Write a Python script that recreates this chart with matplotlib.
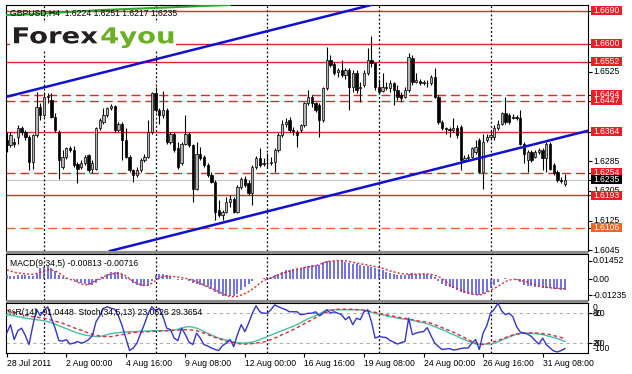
import matplotlib
matplotlib.use("Agg")
import matplotlib.pyplot as plt
import numpy as np
from matplotlib.patches import Rectangle, PathPatch
from matplotlib.textpath import TextPath
from matplotlib.font_manager import FontProperties
from matplotlib.transforms import Affine2D, blended_transform_factory

# GBPUSD H4 candles, 28 Jul 2011 08:00 ... 1 Sep 2011
opens = [1.6341, 1.6328, 1.6337, 1.6350, 1.6373, 1.6364, 1.6350, 1.6283, 1.6355, 1.6431,
         1.6409, 1.6456, 1.6449, 1.6404, 1.6364, 1.6270, 1.6296, 1.6319, 1.6316, 1.6277,
         1.6270, 1.6279, 1.6301, 1.6263, 1.6265, 1.6373, 1.6391, 1.6409, 1.6427, 1.6433,
         1.6368, 1.6384, 1.6341, 1.6296, 1.6261, 1.6247, 1.6261, 1.6288, 1.6296, 1.6364,
         1.6467, 1.6422, 1.6409, 1.6422, 1.6337, 1.6359, 1.6319, 1.6279, 1.6332, 1.6359,
         1.6328, 1.6211, 1.6305, 1.6296, 1.6274, 1.6247, 1.6229, 1.6153, 1.6140, 1.6149,
         1.6175, 1.6184, 1.6149, 1.6216, 1.6238, 1.6225, 1.6198, 1.6270, 1.6292, 1.6277,
         1.6281, 1.6279, 1.6283, 1.6314, 1.6355, 1.6384, 1.6395, 1.6368, 1.6364, 1.6368,
         1.6382, 1.6440, 1.6456, 1.6440, 1.6436, 1.6395, 1.6481, 1.6557, 1.6546, 1.6525,
         1.6530, 1.6516, 1.6530, 1.6485, 1.6521, 1.6481, 1.6490, 1.6521, 1.6557, 1.6548,
         1.6485, 1.6474, 1.6485, 1.6481, 1.6494, 1.6476, 1.6463, 1.6458, 1.6476, 1.6561,
         1.6498, 1.6501, 1.6496, 1.6494, 1.6494, 1.6512, 1.6458, 1.6391, 1.6373, 1.6370,
         1.6368, 1.6373, 1.6377, 1.6288, 1.6292, 1.6296, 1.6310, 1.6341, 1.6256, 1.6341,
         1.6350, 1.6350, 1.6373, 1.6386, 1.6413, 1.6409, 1.6404, 1.6404, 1.6400, 1.6332,
         1.6288, 1.6310, 1.6296, 1.6310, 1.6314, 1.6292, 1.6332, 1.6274, 1.6256, 1.6234, 1.6224]
highs = [1.6364, 1.6364, 1.6346, 1.6382, 1.6379, 1.6368, 1.6355, 1.6359, 1.6472, 1.6440,
         1.6472, 1.6467, 1.6467, 1.6413, 1.6368, 1.6314, 1.6323, 1.6325, 1.6325, 1.6283,
         1.6288, 1.6301, 1.6305, 1.6288, 1.6377, 1.6400, 1.6427, 1.6431, 1.6438, 1.6436,
         1.6391, 1.6391, 1.6373, 1.6301, 1.6265, 1.6270, 1.6292, 1.6305, 1.6395, 1.6472,
         1.6485, 1.6427, 1.6474, 1.6427, 1.6364, 1.6364, 1.6337, 1.6337, 1.6409, 1.6364,
         1.6332, 1.6337, 1.6323, 1.6301, 1.6279, 1.6256, 1.6234, 1.6180, 1.6153, 1.6189,
         1.6193, 1.6189, 1.6220, 1.6243, 1.6245, 1.6234, 1.6274, 1.6298, 1.6319, 1.6292,
         1.6307, 1.6296, 1.6319, 1.6361, 1.6395, 1.6400, 1.6404, 1.6377, 1.6368, 1.6386,
         1.6445, 1.6476, 1.6463, 1.6445, 1.6440, 1.6485, 1.6593, 1.6570, 1.6552, 1.6534,
         1.6557, 1.6534, 1.6534, 1.6530, 1.6530, 1.6498, 1.6530, 1.6588, 1.6621, 1.6552,
         1.6507, 1.6521, 1.6498, 1.6503, 1.6498, 1.6490, 1.6472, 1.6485, 1.6575, 1.6570,
         1.6521, 1.6507, 1.6503, 1.6503, 1.6516, 1.6534, 1.6463, 1.6395, 1.6377, 1.6377,
         1.6400, 1.6382, 1.6382, 1.6301, 1.6305, 1.6323, 1.6341, 1.6346, 1.6359, 1.6359,
         1.6364, 1.6382, 1.6395, 1.6418, 1.6458, 1.6413, 1.6411, 1.6409, 1.6422, 1.6337,
         1.6314, 1.6314, 1.6314, 1.6319, 1.6319, 1.6337, 1.6337, 1.6279, 1.6261, 1.6243, 1.6251]
lows = [1.6310, 1.6323, 1.6323, 1.6332, 1.6355, 1.6341, 1.6261, 1.6265, 1.6350, 1.6395,
        1.6404, 1.6442, 1.6400, 1.6364, 1.6238, 1.6265, 1.6290, 1.6310, 1.6270, 1.6225,
        1.6265, 1.6274, 1.6256, 1.6254, 1.6261, 1.6368, 1.6386, 1.6404, 1.6422, 1.6364,
        1.6364, 1.6288, 1.6292, 1.6256, 1.6229, 1.6243, 1.6256, 1.6283, 1.6292, 1.6359,
        1.6418, 1.6386, 1.6400, 1.6332, 1.6332, 1.6310, 1.6265, 1.6274, 1.6328, 1.6323,
        1.6175, 1.6207, 1.6288, 1.6270, 1.6243, 1.6225, 1.6126, 1.6135, 1.6126, 1.6144,
        1.6162, 1.6144, 1.6144, 1.6211, 1.6216, 1.6193, 1.6166, 1.6265, 1.6270, 1.6272,
        1.6270, 1.6274, 1.6256, 1.6310, 1.6350, 1.6377, 1.6364, 1.6355, 1.6323, 1.6364,
        1.6377, 1.6436, 1.6431, 1.6418, 1.6350, 1.6391, 1.6476, 1.6539, 1.6516, 1.6510,
        1.6512, 1.6507, 1.6422, 1.6472, 1.6467, 1.6445, 1.6485, 1.6516, 1.6539, 1.6476,
        1.6467, 1.6472, 1.6476, 1.6472, 1.6436, 1.6449, 1.6445, 1.6454, 1.6472, 1.6490,
        1.6494, 1.6490, 1.6490, 1.6485, 1.6490, 1.6454, 1.6386, 1.6368, 1.6359, 1.6350,
        1.6364, 1.6346, 1.6261, 1.6283, 1.6288, 1.6292, 1.6305, 1.6252, 1.6211, 1.6337,
        1.6341, 1.6341, 1.6368, 1.6382, 1.6386, 1.6386, 1.6397, 1.6395, 1.6328, 1.6279,
        1.6256, 1.6283, 1.6292, 1.6305, 1.6261, 1.6256, 1.6261, 1.6247, 1.6229, 1.6225, 1.6217]
closes = [1.6328, 1.6355, 1.6331, 1.6373, 1.6364, 1.6350, 1.6283, 1.6355, 1.6431, 1.6409,
          1.6456, 1.6460, 1.6404, 1.6368, 1.6288, 1.6296, 1.6319, 1.6314, 1.6274, 1.6265,
          1.6281, 1.6296, 1.6261, 1.6281, 1.6373, 1.6395, 1.6409, 1.6427, 1.6433, 1.6368,
          1.6384, 1.6341, 1.6296, 1.6261, 1.6247, 1.6261, 1.6288, 1.6296, 1.6364, 1.6467,
          1.6422, 1.6409, 1.6422, 1.6337, 1.6359, 1.6314, 1.6270, 1.6332, 1.6359, 1.6328,
          1.6211, 1.6305, 1.6292, 1.6274, 1.6247, 1.6229, 1.6149, 1.6140, 1.6149, 1.6175,
          1.6184, 1.6149, 1.6216, 1.6238, 1.6220, 1.6198, 1.6270, 1.6292, 1.6274, 1.6281,
          1.6279, 1.6283, 1.6314, 1.6355, 1.6384, 1.6391, 1.6368, 1.6367, 1.6355, 1.6382,
          1.6440, 1.6456, 1.6440, 1.6422, 1.6395, 1.6481, 1.6557, 1.6543, 1.6521, 1.6530,
          1.6516, 1.6530, 1.6485, 1.6521, 1.6476, 1.6485, 1.6521, 1.6557, 1.6548, 1.6485,
          1.6472, 1.6485, 1.6481, 1.6494, 1.6476, 1.6458, 1.6454, 1.6476, 1.6566, 1.6498,
          1.6503, 1.6496, 1.6498, 1.6496, 1.6512, 1.6458, 1.6391, 1.6373, 1.6370, 1.6368,
          1.6373, 1.6355, 1.6288, 1.6292, 1.6296, 1.6319, 1.6323, 1.6256, 1.6337, 1.6350,
          1.6355, 1.6373, 1.6386, 1.6413, 1.6391, 1.6391, 1.6402, 1.6400, 1.6332, 1.6305,
          1.6310, 1.6288, 1.6310, 1.6314, 1.6292, 1.6332, 1.6265, 1.6252, 1.6234, 1.6232, 1.6235]

# MACD(9,34,5) main (histogram) and signal
macd = [.0030, .0028, .0025, .0030, .0035, .0032, .0022, .0025, .0040, .0085,
        .0098, .0105, .0090, .0064, .0035, .0020, .0010, .0005, -.0005, -.0020,
        -.0030, -.0035, -.0040, -.0045, -.0030, -.0005, .0020, .0040, .0055, .0060,
        .0055, .0045, .0020, -.0005, -.0030, -.0045, -.0050, -.0050, -.0040, -.0010,
        .0030, .0045, .0045, .0035, .0020, .0005, -.0005, -.0005, .0000, -.0010,
        -.0030, -.0035, -.0040, -.0050, -.0060, -.0075, -.0100, -.0115, -.0125, -.0130,
        -.0130, -.0125, -.0110, -.0085, -.0060, -.0035, -.0010, .0000, .0005, .0010,
        .0015, .0020, .0030, .0045, .0060, .0070, .0075, .0078, .0078, .0082,
        .0095, .0105, .0108, .0108, .0112, .0130, .0142, .0145, .0145, .0143,
        .0138, .0132, .0125, .0120, .0115, .0110, .0105, .0102, .0098, .0088,
        .0080, .0070, .0060, .0050, .0040, .0035, .0032, .0035, .0045, .0046,
        .0042, .0040, .0040, .0038, .0030, .0015, -.0010, -.0035, -.0050, -.0060,
        -.0070, -.0080, -.0095, -.0105, -.0115, -.0120, -.0120, -.0120, -.0110, -.0095,
        -.0070, -.0045, -.0020, .0005, .0010, .0005, .0000, -.0005, -.0020, -.0040,
        -.0050, -.0055, -.0060, -.0062, -.0065, -.0066, -.0068, -.0072, -.0076, -.0079, -.0081]
macd_signal = [.0072, .0064, .0056, .0050, .0045, .0042, .0040, .0039, .0045, .0055,
               .0065, .0072, .0072, .0065, .0050, .0030, .0010, .0000, -.0010, -.0020,
               -.0035, -.0043, -.0040, -.0025, -.0008, .0008, .0020, .0032, .0040, .0046,
               .0048, .0040, .0025, .0005, -.0018, -.0030, -.0042, -.0049, -.0045, -.0030,
               -.0010, .0010, .0021, .0025, .0023, .0021, .0018, .0012, .0008, .0002,
               -.0008, -.0018, -.0030, -.0045, -.0060, -.0072, -.0082, -.0095, -.0110, -.0125,
               -.0132, -.0134, -.0130, -.0122, -.0110, -.0095, -.0075, -.0055, -.0030, -.0010,
               .0002, .0012, .0022, .0035, .0046, .0055, .0065, .0072, .0080, .0085,
               .0090, .0095, .0100, .0105, .0115, .0125, .0136, .0140, .0143, .0145,
               .0145, .0143, .0138, .0132, .0125, .0120, .0115, .0110, .0105, .0098,
               .0092, .0085, .0075, .0065, .0058, .0050, .0045, .0042, .0040, .0040,
               .0040, .0042, .0042, .0041, .0039, .0032, .0020, .0005, -.0015, -.0044,
               -.0058, -.0070, -.0082, -.0095, -.0105, -.0112, -.0118, -.0120, -.0115, -.0100,
               -.0085, -.0070, -.0052, -.0035, -.0018, -.0006, .0000, -.0002, -.0008, -.0015,
               -.0022, -.0030, -.0040, -.0050, -.0057, -.0062, -.0065, -.0068, -.0070, -.0071, -.0072]

# Williams %R(14) and Stochastic(34,5,13)
wpr = [-60, -43, -73, -55, -50, -65, -83, -45, -12, -25,
       -15, -7, -30, -50, -75, -76, -73, -82, -80, -77,
       -80, -78, -73, -65, -37, -25, -10, -7, -10, -12,
       -25, -45, -70, -95, -90, -80, -60, -42, -20, -7,
       -15, -10, -27, -50, -53, -70, -75, -50, -63, -78,
       -83, -60, -70, -83, -86, -90, -93, -95, -85, -80,
       -73, -87, -63, -43, -57, -40, -20, -5, -17, -20,
       -20, -13, -3, -7, -10, -13, -17, -17, -17, -23,
       -22, -20, -20, -17, -25, -20, -13, -20, -17, -20,
       -23, -33, -27, -43, -30, -33, -17, -13, -37, -70,
       -67, -68, -69, -75, -78, -82, -79, -77, -30, -63,
       -60, -58, -57, -49, -65, -80, -87, -93, -92, -91,
       -94, -93, -91, -90, -90, -80, -73, -93, -60, -45,
       -20, -12, 0, -15, -23, -20, -27, -47, -58, -60,
       -62, -67, -75, -82, -70, -83, -90, -96, -98, -95, -91.0448]
stoch_main = [77, 76, 75, 73, 72, 70, 69, 68, 67, 66,
              65, 63, 61, 58, 55, 52, 49, 46, 43, 40,
              38, 36, 35, 34, 33, 33, 35, 37, 39, 40,
              41, 42, 42, 43, 43, 43, 44, 44, 44, 45,
              45, 45, 45, 45, 45, 46, 48, 50, 52, 53,
              52, 50, 47, 43, 40, 36, 33, 30, 28, 26,
              24, 22, 21, 20, 20, 21, 22, 24, 27, 30,
              33, 36, 39, 42, 45, 48, 51, 54, 57, 61,
              65, 69, 72, 75, 79, 83, 86, 87, 87, 87,
              87, 87, 87, 87, 87, 87, 86, 84, 82, 80,
              78, 77, 75, 73, 72, 70, 69, 68, 67, 66,
              64, 62, 61, 59, 56, 53, 50, 47, 44, 40,
              37, 34, 30, 27, 24, 21, 18, 18, 18, 18,
              18, 20, 22, 26, 29, 32, 35, 38, 39, 40,
              40, 40, 39, 38, 37, 35, 33, 31, 29, 26, 23.0626]
stoch_signal = [86, 84, 82, 80, 78, 76, 74, 73, 72, 71,
                70, 68, 66, 64, 62, 60, 57, 54, 51, 48,
                46, 43, 40, 38, 36, 34, 33, 33, 33, 34,
                36, 37, 38, 40, 41, 42, 42, 43, 43, 43,
                44, 44, 45, 45, 45, 46, 46, 47, 47, 47,
                46, 45, 42, 40, 37, 34, 31, 29, 26, 24,
                22, 21, 19, 18, 18, 18, 19, 20, 21, 22,
                24, 27, 30, 33, 37, 40, 44, 47, 51, 55,
                59, 63, 67, 71, 75, 79, 82, 85, 87, 88,
                88, 88, 88, 88, 87, 87, 86, 85, 83, 82,
                80, 78, 77, 75, 74, 72, 71, 70, 68, 67,
                65, 64, 63, 62, 60, 57, 54, 51, 48, 45,
                42, 38, 35, 31, 27, 23, 20, 18, 17, 19,
                21, 23, 25, 28, 31, 34, 36, 38, 39, 40,
                40, 40, 40, 40, 39, 38, 37, 35, 33, 31, 29.3654]

# long moving average, only its tail shows at the top edge
ma_bars = [0, 5, 10, 15, 20, 25, 30, 35, 40, 45, 50, 55, 60]
ma_vals = [1.6678, 1.6679, 1.6682, 1.6685, 1.6688, 1.6691, 1.6693, 1.6695, 1.6697,
           1.6699, 1.6701, 1.6703, 1.6705]

# hand drawn levels and channel (bar, price anchors)
solid_levels = [1.6690, 1.6600, 1.6552, 1.6364, 1.6193]
dashed_levels = [1.6464, 1.6447, 1.6254]
orange_level = 1.6106
last_price = 1.6235
channel_upper = [(0, 1.6458), (98, 1.6705)]
channel_lower = [(40, 1.6074), (150, 1.6351)]
plain_price_labels = [1.6525, 1.6285, 1.6205, 1.6125, 1.6045]

week_starts = [10, 40, 70, 100, 130]
label_bars = [0, 16, 32, 48, 64, 80, 96, 112, 128, 144]
time_labels = ["28 Jul 2011", "2 Aug 00:00", "4 Aug 16:00", "9 Aug 08:00", "12 Aug 00:00",
               "16 Aug 16:00", "19 Aug 08:00", "24 Aug 00:00", "26 Aug 16:00", "31 Aug 08:00"]

W, H = 632, 374
RED = '#e5262b'
BOXRED = '#ee1c25'
ORANGE = '#f26522'
FONT = 'Liberation Sans'
FS = 6.2

fig = plt.figure(figsize=(W / 100, H / 100), dpi=100)
fig.patch.set_facecolor('white')


def frac(x0, y0, x1, y1):
    return [x0 / W, 1 - y1 / H, (x1 - x0) / W, (y1 - y0) / H]


ax = fig.add_axes(frac(6, 5, 588, 251))
ax2 = fig.add_axes(frac(6, 254, 588, 300))
ax3 = fig.add_axes(frac(6, 302.5, 588, 353))

n = len(closes)
idx = np.arange(n)
o = np.array(opens)
c = np.array(closes)
hi = np.array(highs)
lo = np.array(lows)

for a in (ax, ax2, ax3):
    a.set_xlim(-0.2, 156.2)
    for s in a.spines.values():
        s.set_color('black')
        s.set_linewidth(0.8)
    for wk in week_starts:
        a.axvline(wk, color='black', lw=0.9, ls=(0, (1.5, 1.8)), zorder=2)

# ---- main price panel
ax.set_ylim(1.60431, 1.67048)
for lv in solid_levels:
    ax.axhline(lv, color=RED, lw=1.0, zorder=1)
for lv in dashed_levels:
    ax.axhline(lv, color=RED, lw=1.0, ls=(0, (6.5, 3.5)), zorder=1)
ax.axhline(orange_level, color=ORANGE, lw=1.0, ls=(0, (6.5, 3.5)), zorder=1)
ax.axhline(last_price, color='#c8c8c8', lw=0.8, zorder=1)

ax.vlines(idx, np.minimum(lo, np.minimum(o, c)), np.maximum(hi, np.maximum(o, c)),
          color='black', lw=0.8, zorder=3)
up = c >= o
body_bottom = np.minimum(o, c)
body_h = np.maximum(np.abs(c - o), 0.00008)
ax.bar(idx[up], body_h[up], bottom=body_bottom[up], width=0.62, color='#b4b4b4',
       edgecolor='black', linewidth=0.5, zorder=4)
ax.bar(idx[~up], body_h[~up], bottom=body_bottom[~up], width=0.62, color='black',
       edgecolor='black', linewidth=0.5, zorder=4)

ax.axline(channel_upper[0], channel_upper[1], color='#1010d0', lw=1.8, zorder=5)
ax.axline(channel_lower[0], channel_lower[1], color='#1010d0', lw=1.8, zorder=5)
ax.plot(ma_bars, ma_vals, color='#2ea82e', lw=1.5, zorder=5)

ax.set_xticks([])
ax.yaxis.tick_right()
ax.set_yticks(solid_levels + dashed_levels + [orange_level, last_price] + plain_price_labels)
ax.set_yticklabels([])
ax.tick_params(axis='y', length=3, width=0.8, color='black')

bt = blended_transform_factory(ax.transAxes, ax.transData)
px = 1.0 / 582
box_h = 9 * (1.67048 - 1.60431) / 246
for lv in plain_price_labels:
    ax.text(1 + 18.5 * px, lv, f"{lv:.4f}", transform=bt, ha='center', va='center',
            fontsize=FS, family=FONT, color='black', clip_on=False, zorder=6)


def boxed(lv, fc):
    ax.add_patch(Rectangle((1 + 2.7 * px, lv - box_h / 2), 31.5 * px, box_h, transform=bt,
                           fc=fc, ec='none', clip_on=False, zorder=7))
    ax.text(1 + 18.5 * px, lv, f"{lv:.4f}", transform=bt, ha='center', va='center',
            fontsize=FS, family=FONT, color='white', clip_on=False, zorder=8)


for lv in solid_levels + dashed_levels:
    boxed(lv, BOXRED)
boxed(orange_level, ORANGE)
boxed(last_price, 'black')

# ---- MACD panel
ax2.set_ylim(-0.01594, 0.01955)
ax2.vlines(idx, 0, macd, color='#4a4ae0', lw=1.1, zorder=3)
ax2.plot(idx, macd_signal, color=RED, lw=1.0, ls=(0, (1.5, 1.5)), zorder=4)
ax2.set_xticks([])
ax2.yaxis.tick_right()
ax2.set_yticks([0.01452, 0.0, -0.01235])
ax2.set_yticklabels([])
ax2.tick_params(axis='y', length=3, width=0.8)
bt2 = blended_transform_factory(ax2.transAxes, ax2.transData)
for val, txt in [(0.01452, "0.01452"), (0.0, "0.00"), (-0.01235, "-0.01235")]:
    ax2.text(1 + 5 * px, val, txt, transform=bt2, ha='left', va='center',
             fontsize=FS, family=FONT, clip_on=False)
ax2.text(0.007, 0.80, "MACD(9,34,5) -0.00813 -0.00716", transform=ax2.transAxes,
         fontsize=FS, family=FONT, va='center', zorder=6)

# ---- %R / Stochastic panel
ax3.set_ylim(0, 101.6)
ax3.axhline(80, color='#b0b0b0', lw=0.8, ls=(0, (3, 3)), zorder=1)
ax3.axhline(20, color='#b0b0b0', lw=0.8, ls=(0, (3, 3)), zorder=1)
ax3.plot(idx, np.array(stoch_main), color='#45bfae', lw=1.0, zorder=3)
ax3.plot(idx, np.array(stoch_signal), color=RED, lw=1.0, ls=(0, (2.5, 2)), zorder=3)
ax3.plot(idx, np.array(wpr) + 100, color='#3434d0', lw=1.0, zorder=4)
ax3.yaxis.tick_right()
ax3.set_yticks([80, 20])
ax3.set_yticklabels([])
ax3.tick_params(axis='y', length=3, width=0.8)
bt3 = blended_transform_factory(ax3.transAxes, ax3.transData)
for val, txt, va in [(101.6, "0", 'top'), (80, "80", 'center'), (80, "-20", 'center'),
                     (20, "20", 'center'), (20, "-80", 'center'), (0, "-100", 'bottom')]:
    ax3.text(1 + 5 * px, val, txt, transform=bt3, ha='left', va=va,
             fontsize=FS, family=FONT, clip_on=False)
ax3.text(0.003, 0.80, "%R(14) -91.0448  Stoch(34,5,13) 23.0626 29.3654",
         transform=ax3.transAxes, fontsize=FS, family=FONT, va='center', zorder=6)
ax3.set_xticks(label_bars)
ax3.set_xticklabels(time_labels, fontsize=FS, family=FONT, ha='left')
ax3.tick_params(axis='x', length=3, width=0.8, pad=1.5)

# panel separators
for y0, y1 in [(251, 254), (300, 302.5)]:
    fig.add_artist(Rectangle((6 / W, 1 - y1 / H), 582 / W, (y1 - y0) / H,
                             transform=fig.transFigure, fc='#8c8c8c', ec='none', zorder=3))

# header
fig.text(10 / W, 1 - 13 / H, "GBPUSD,H4  1.6224 1.6251 1.6217 1.6235", fontsize=FS,
         family=FONT, va='center', zorder=12)

# logo
fig.add_artist(Rectangle((10 / W, 1 - 50 / H), 166 / W, 27 / H, transform=fig.transFigure,
                         fc='white', ec='none', zorder=9))
fp = FontProperties(family='DejaVu Sans', weight='bold')
full_w = TextPath((0, 0), "Forex4you", size=1, prop=fp).get_extents().width
cap_h = TextPath((0, 0), "F", size=1, prop=fp).get_extents().height
sx = 157 / full_w
sy = 16 / cap_h
x_cur = 14
for part, col in [("Forex", '#231f20'), ("4you", '#6ab023')]:
    tp = TextPath((0, 0), part, size=1, prop=fp)
    ext = tp.get_extents()
    tr = Affine2D().translate(-ext.x0, 0).scale(sx, sy).translate(x_cur, H - 43.3)
    fig.add_artist(PathPatch(tp, transform=tr, fc=col, ec='none', zorder=10))
    adv = TextPath((0, 0), part + "|", size=1, prop=fp).get_extents().width - \
        TextPath((0, 0), "|", size=1, prop=fp).get_extents().width
    x_cur += adv * sx

fig.savefig("out.png", dpi=100)
